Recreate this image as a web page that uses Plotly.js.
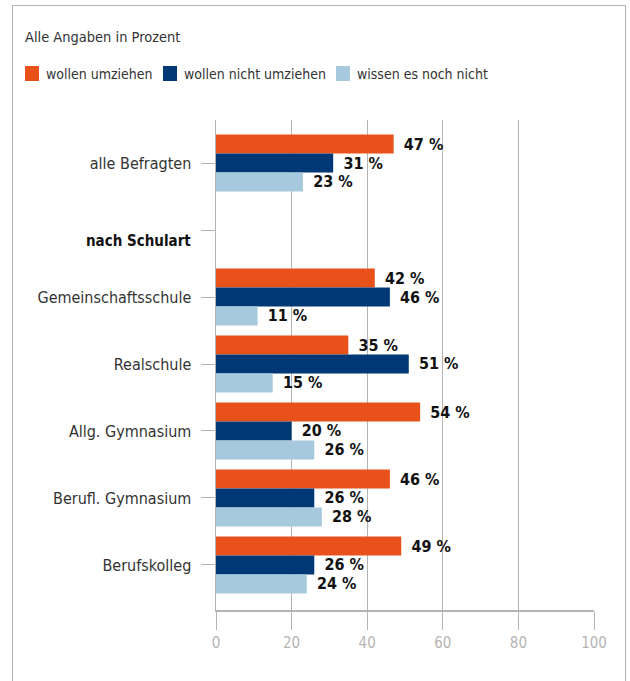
<!DOCTYPE html>
<html><head><meta charset="utf-8">
<script src="https://cdn.plot.ly/plotly-3.0.1.min.js"></script>
<style>
html,body{margin:0;padding:0;background:#fff;}
#frame{position:absolute;left:12px;top:5px;width:612px;height:700px;border:1.5px solid #b4b4b4;border-bottom:none;}
#chart{position:absolute;left:0;top:0;width:630px;height:681px;}
</style></head>
<body>
<div id="frame"></div>
<div id="chart"></div>
<script>
const categories = ["alle Befragten", "nach Schulart", "Gemeinschaftsschule", "Realschule", "Allg. Gymnasium", "Berufl. Gymnasium", "Berufskolleg"];
const tickLabels = ["alle Befragten", " ", "Gemeinschaftsschule", "Realschule", "Allg. Gymnasium", "Berufl. Gymnasium", "Berufskolleg"];
const seriesNames = ["wollen umziehen", "wollen nicht umziehen", "wissen es noch nicht"];
const wollenUmziehen = [47, null, 42, 35, 54, 46, 49];
const wollenNichtUmziehen = [31, null, 46, 51, 20, 26, 26];
const wissenNicht = [23, null, 11, 15, 26, 28, 24];
const colors = ["#e8511a", "#003876", "#a7c9dd"];
const sectionLabel = "nach Schulart";

const FONT = "'DejaVu Sans Condensed', 'Liberation Sans Narrow', sans-serif";

// plot-area geometry (pixels) used to convert positions to paper coordinates
const L = 216, R = 594, T = 120, B = 610;
const px2x = p => (p - L) / (R - L);
const px2y = p => (B - p) / (B - T);

function mk(vals, i) {
  return {
    type: "bar", orientation: "h", name: seriesNames[i],
    x: vals, y: categories,
    marker: {color: colors[i], line: {width: 0}},
    text: vals.map(v => v == null ? "" : "\u2002" + v + " %"),
    textposition: "outside", cliponaxis: false, constraintext: "none",
    textfont: {family: FONT, size: 16, color: "#111", weight: 700},
    hoverinfo: "skip", showlegend: false
  };
}
const data = [mk(wollenUmziehen, 0), mk(wollenNichtUmziehen, 1), mk(wissenNicht, 2)];

// custom legend (squares + labels)
const legendX = [25, 163, 336];
const legendY = 73.5;
const shapes = [], annotations = [];
seriesNames.forEach((n, i) => {
  shapes.push({type: "rect", xref: "paper", yref: "paper",
    x0: px2x(legendX[i]), x1: px2x(legendX[i] + 14),
    y0: px2y(legendY - 7.5), y1: px2y(legendY + 7.5),
    fillcolor: colors[i], line: {width: 0}});
  annotations.push({text: n, xref: "paper", yref: "paper",
    x: px2x(legendX[i] + 19), y: px2y(legendY), xanchor: "left", yanchor: "middle",
    showarrow: false, font: {family: FONT, size: 14, color: "#333"}});
});
annotations.push({text: sectionLabel, xref: "paper", yref: "y", x: px2x(193), y: 1.16,
  xanchor: "right", yanchor: "middle", showarrow: false,
  font: {family: FONT, size: 15, color: "#111", weight: 700}});

const layout = {
  width: 630, height: 681,
  margin: {l: L, r: 630 - R, t: T, b: 681 - B},
  paper_bgcolor: "rgba(0,0,0,0)", plot_bgcolor: "rgba(0,0,0,0)",
  font: {family: FONT, color: "#333", size: 16},
  barmode: "group", bargap: 0.15, bargroupgap: 0,
  showlegend: false,
  title: {text: "Alle Angaben in Prozent", x: 25/630, xanchor: "left", xref: "container",
          y: 1 - 37/681, yanchor: "middle", yref: "container",
          font: {family: FONT, size: 14.5, color: "#333"}},
  xaxis: {range: [0, 100], tickvals: [0, 20, 40, 60, 80, 100], showgrid: true, automargin: false,
          gridcolor: "#b4b4b4", gridwidth: 1, zeroline: false,
          showline: true, linecolor: "#b4b4b4", linewidth: 1.5,
          ticks: "outside", ticklen: 18, tickcolor: "#b4b4b4", tickwidth: 1,
          tickfont: {family: FONT, size: 15, color: "#b4b4b4"}, fixedrange: true},
  yaxis: {type: "category", categoryorder: "array", categoryarray: categories,
          tickvals: categories, ticktext: tickLabels, automargin: false,
          range: [6.672, -0.642], showgrid: false, zeroline: false,
          showline: true, linecolor: "#b4b4b4", linewidth: 1.5,
          ticks: "outside", ticklen: 14, tickcolor: "#b4b4b4", tickwidth: 1,
          ticklabelstandoff: 6,
          tickfont: {family: FONT, size: 16, color: "#333"}, fixedrange: true},
  shapes: shapes,
  annotations: annotations
};
Plotly.newPlot("chart", data, layout, {displayModeBar: false, staticPlot: true});
</script>
</body></html>
